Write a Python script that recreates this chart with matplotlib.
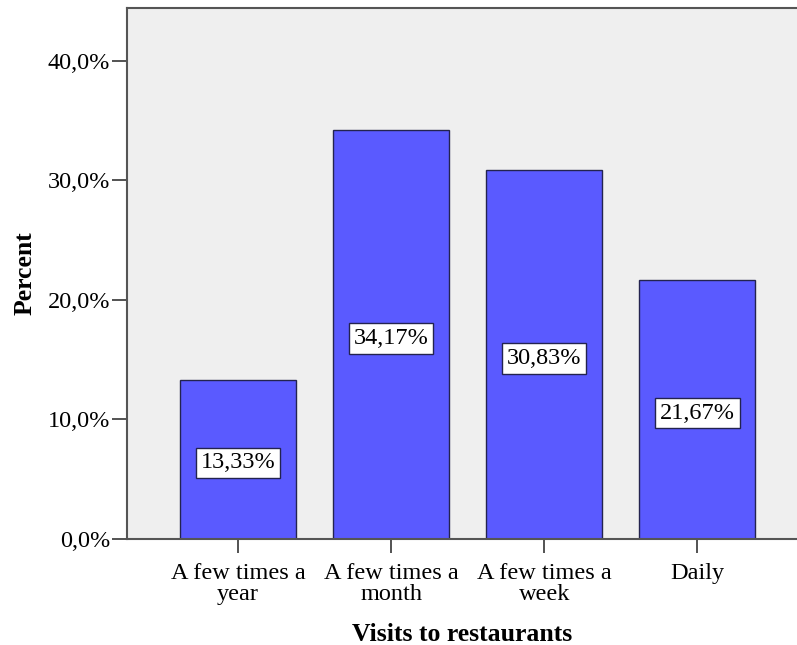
import matplotlib.pyplot as plt
from matplotlib.ticker import FuncFormatter

categories = ["A few times a\nyear", "A few times a\nmonth", "A few times a\nweek", "Daily"]
percents = [13.33, 34.17, 30.83, 21.67]
y_ticks = [0, 10, 20, 30, 40]

plt.rcParams["font.family"] = ["Liberation Serif", "DejaVu Serif"]

fig = plt.figure(figsize=(7.97, 6.45), dpi=100)
ax = fig.add_axes([127 / 797, (645 - 539) / 645, 670 / 797, 531 / 645])
ax.set_facecolor("#efefef")

x = range(len(categories))
ax.bar(x, percents, width=0.757, color="#5a5aff", edgecolor="#23234f", linewidth=1.0, zorder=2)

# value labels sit in the middle of each bar
for xi, p in zip(x, percents):
    ax.text(xi, p / 2 - 0.3, f"{p:.2f}%".replace(".", ","), ha="center", va="center",
            fontsize=17.5, zorder=3,
            bbox=dict(boxstyle="square,pad=0.2", facecolor="white", edgecolor="#23234f", linewidth=1.0))

ax.set_xlim(-0.725, 3.65)
ax.set_ylim(0, 44.4)
ax.set_yticks(y_ticks)
ax.yaxis.set_major_formatter(FuncFormatter(lambda v, _: f"{v:.1f}%".replace(".", ",")))
ax.set_xticks(list(x))
ax.set_xticklabels(categories, fontsize=17.5, linespacing=1.05)
ax.tick_params(axis="y", labelsize=17.5, length=11, width=1.3, color="#444444", pad=1)
ax.tick_params(axis="x", length=10, width=1.3, color="#444444", pad=7)

ax.spines["right"].set_visible(False)
for s in ["left", "top", "bottom"]:
    ax.spines[s].set_color("#555555")
    ax.spines[s].set_linewidth(1.5)

ax.set_ylabel("Percent", fontsize=18.5, fontweight="bold", labelpad=8)
ax.set_xlabel("Visits to restaurants", fontsize=18.5, fontweight="bold", labelpad=13)

fig.savefig("out.png", dpi=100)
